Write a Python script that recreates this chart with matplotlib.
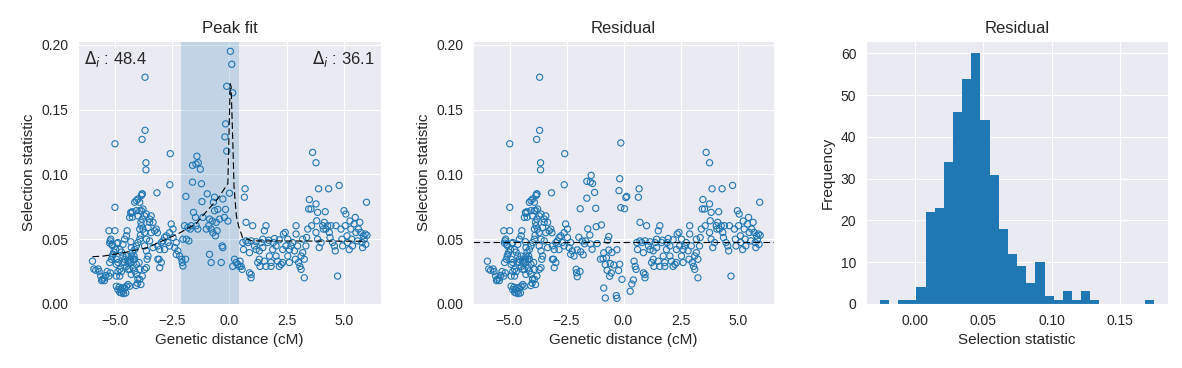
import numpy as np
import matplotlib
matplotlib.use("Agg")
import matplotlib.pyplot as plt
import seaborn as sns

sns.set_style("darkgrid")
plt.rcParams["font.family"] = ["Liberation Sans", "DejaVu Sans"]

# genetic distance (cM) and selection statistic
gen_x = [
    -5.97, -5.91, -5.83, -5.72, -5.68, -5.61, -5.54, -5.46, -5.39, -5.33, -5.57, -5.45, -5.25, -5.19,
    -5.25, -5.17, -5.22, -5.10, -5.04, -4.99, -4.99, -4.99, -5.10, -4.93, -4.86,
    -5.20, -5.12, -4.90, -4.29, -4.23,
    -4.93, -4.86, -4.78, -4.71, -4.64, -4.57, -4.49, -4.42, -4.35, -4.67, -4.81, -4.75, -4.61, -4.52,
    -4.78, -4.71, -4.64, -4.57, -4.49, -4.42, -4.35, -4.28, -4.28, -4.20, -4.20, -4.13, -4.06, -3.99,
    -3.91, -3.94, -4.06, -4.13, -4.16, -4.23, -4.28, -4.30, -4.13, -4.06, -3.99, -3.91, -3.88, -3.91,
    -3.84, -3.86, -3.77, -3.80, -3.70, -3.62, -3.70, -3.62, -3.55, -3.59, -3.62, -3.70, -3.80, -3.91,
    -4.01, -4.07, -3.86,
    -4.64, -4.57, -4.49, -4.46, -4.35, -4.30, -4.23, -4.13, -4.06, -3.99, -3.91, -3.84, -3.80, -4.06,
    -3.99, -3.91, -3.84, -3.77, -3.70, -3.62, -3.48, -3.41, -3.33, -3.48, -3.55, -3.26, -3.19, -3.14,
    -3.41, -3.48, -3.33, -3.12, -3.04, -3.07, -3.04, -3.16,
    -3.68, -3.68, -3.81, -3.64, -3.64, -3.81, -2.58, -2.60,
    -5.22, -5.14, -5.07, -4.96, -4.86, -4.78, -4.71, -4.64, -4.57, -4.49, -4.42, -4.38, -4.32, -4.28,
    -4.86, -4.78, -4.93, -4.93,
    -2.54, -2.46, -2.61, -2.75, -2.83, -2.90, -2.97, -2.68, -2.46, -2.32, -2.39, -2.25, -2.32, -2.17,
    -2.61, -2.83, -3.12, -2.97,
    -2.08, -2.06, -2.03, -1.91, -1.90, -1.61, -1.22, -1.42, -1.36, -1.61, -1.27, -1.46, -1.20, -1.16,
    -1.01, -1.57, -1.48, -1.45, -1.38, -1.81, -1.96, -2.03, -1.88, -1.77, -1.71, -1.67,
    -0.87, -0.90, -0.80, -0.75, -0.58, -0.65, -0.54, -0.72, -0.61, -0.51, -0.43, -0.29, -0.17, -0.22,
    -0.07, 0.00, -0.65, -0.97, -0.70,
    -0.87, -0.80, -0.36, -0.29, -0.32,
    -0.12, 0.04, 0.10, 0.14, -0.17, -0.20, -0.12,
    0.14, 0.22, 0.29, 0.36, 0.43, 0.46, 0.51, 0.55, 0.58, 0.61, 0.68, 0.65, 0.72, 0.80, 0.87, 0.94,
    0.94, 0.87, 1.01, 1.09, 1.16, 1.23, 1.30, 1.33, 1.38, 1.45, 1.52, 1.59, 1.59, 1.67, 1.74, 1.81,
    1.81, 1.88, 1.91, 2.03, 2.10, 2.17, 2.25, 2.32, 2.35, 2.43, 2.46, 2.54, 2.61, 2.68, 2.75, 2.83,
    2.87, 2.90, 2.97, 3.01, 3.07, 3.12, 3.19, 3.26, 3.26, 3.33, 3.36, 3.45, 3.48, 3.55, 3.58, 3.62,
    3.77, 3.77, 3.80, 3.84, 3.88, 3.77, 3.84, 3.91, 3.99, 4.06, 4.09, 4.13, 4.17, 4.20, 4.28, 4.32,
    4.35, 4.38, 4.42, 4.49, 4.57, 4.61, 4.64, 4.71, 4.78, 4.86, 4.90, 4.93, 4.99, 5.04, 5.07, 5.12,
    5.14, 5.22, 5.25, 5.29, 5.33, 5.36, 5.43, 5.48, 5.51, 5.58, 5.62, 5.68, 5.72, 5.77, 5.80, 5.83,
    5.87, 5.91, 5.94, 5.97, 5.99,
    0.72, 0.94, 1.16, 1.45, 1.71, 1.96, 2.17, 2.54, 2.90, 3.19, 3.41, 1.52, 2.32, 2.61, 1.30, 2.03,
    3.12,
]
sel_y = [
    0.0330, 0.0270, 0.0260, 0.0270, 0.0250, 0.0215, 0.0190, 0.0200, 0.0220, 0.0250, 0.0180, 0.0180, 0.0215, 0.0240,
    0.0565, 0.0500, 0.0470, 0.0450, 0.0400, 0.0565, 0.0746, 0.1236, 0.0370, 0.0345, 0.0320,
    0.0487, 0.0460, 0.0467, 0.0700, 0.0670,
    0.0137, 0.0110, 0.0090, 0.0085, 0.0098, 0.0124, 0.0137, 0.0150, 0.0137, 0.0124, 0.0130, 0.0110, 0.0080, 0.0085,
    0.0215, 0.0250, 0.0320, 0.0345, 0.0370, 0.0330, 0.0267, 0.0228, 0.0320, 0.0345, 0.0280, 0.0254, 0.0228, 0.0194,
    0.0267, 0.0320, 0.0306, 0.0345, 0.0370, 0.0400, 0.0435, 0.0480, 0.0420, 0.0448, 0.0474, 0.0500, 0.0530, 0.0578,
    0.0604, 0.0630, 0.0578, 0.0655, 0.0550, 0.0500, 0.0448, 0.0410, 0.0370, 0.0345, 0.0280, 0.0267, 0.0215, 0.0190,
    0.0160, 0.0142, 0.0150,
    0.0460, 0.0500, 0.0526, 0.0565, 0.0668, 0.0707, 0.0712, 0.0785, 0.0798, 0.0810, 0.0785, 0.0837, 0.0850, 0.0720,
    0.0680, 0.0720, 0.0720, 0.0733, 0.0680, 0.0694, 0.0655, 0.0680, 0.0630, 0.0630, 0.0590, 0.0565, 0.0578, 0.0550,
    0.0550, 0.0487, 0.0435, 0.0448, 0.0420, 0.0345, 0.0280, 0.0858,
    0.1750, 0.1340, 0.1270, 0.1090, 0.1035, 0.0848, 0.1160, 0.0920,
    0.0320, 0.0345, 0.0383, 0.0420, 0.0474, 0.0420, 0.0400, 0.0370, 0.0320, 0.0290, 0.0267, 0.0320, 0.0345, 0.0370,
    0.0250, 0.0267, 0.0215, 0.0306,
    0.0617, 0.0578, 0.0550, 0.0526, 0.0513, 0.0487, 0.0474, 0.0474, 0.0513, 0.0474, 0.0435, 0.0410, 0.0383, 0.0370,
    0.0448, 0.0420, 0.0345, 0.0320,
    0.0345, 0.0320, 0.0293, 0.0345, 0.0830, 0.0940, 0.0928, 0.1140, 0.1090, 0.1070, 0.1040, 0.1080, 0.0790, 0.0668,
    0.0578, 0.0707, 0.0668, 0.0604, 0.0578, 0.0590, 0.0604, 0.0500, 0.0500, 0.0487, 0.0578, 0.0604,
    0.0655, 0.0604, 0.0578, 0.0640, 0.0630, 0.0720, 0.0565, 0.0550, 0.0526, 0.0730, 0.0655, 0.0810, 0.0730, 0.0668,
    0.0640, 0.0855, 0.0824, 0.0850, 0.0785,
    0.0383, 0.0320, 0.0320, 0.0435, 0.0448,
    0.1680, 0.1950, 0.1850, 0.1630, 0.1390, 0.1290, 0.1180,
    0.0290, 0.0345, 0.0320, 0.0306, 0.0290, 0.0330, 0.0290, 0.0267, 0.0474, 0.0420, 0.0889, 0.0824, 0.0630, 0.0474, 0.0240, 0.0202,
    0.0228, 0.0396, 0.0604, 0.0448, 0.0420, 0.0320, 0.0345, 0.0290, 0.0474, 0.0435, 0.0330, 0.0604, 0.0290, 0.0474, 0.0370, 0.0320,
    0.0290, 0.0420, 0.0474, 0.0448, 0.0330, 0.0290, 0.0306, 0.0420, 0.0540, 0.0552, 0.0448, 0.0370, 0.0420, 0.0448, 0.0474, 0.0410,
    0.0345, 0.0604, 0.0448, 0.0320, 0.0290, 0.0370, 0.0396, 0.0202, 0.0345, 0.0448, 0.0513, 0.0733, 0.0806, 0.0733, 0.0604, 0.1170,
    0.1090, 0.0772, 0.0642, 0.0707, 0.0889, 0.0552, 0.0500, 0.0435, 0.0474, 0.0604, 0.0578, 0.0630, 0.0712, 0.0578, 0.0604, 0.0889,
    0.0552, 0.0513, 0.0604, 0.0474, 0.0448, 0.0410, 0.0604, 0.0215, 0.0915, 0.0578, 0.0500, 0.0448, 0.0720, 0.0604, 0.0694, 0.0526,
    0.0474, 0.0420, 0.0640, 0.0578, 0.0500, 0.0448, 0.0617, 0.0668, 0.0552, 0.0487, 0.0578, 0.0630, 0.0552, 0.0474, 0.0435, 0.0526,
    0.0500, 0.0540, 0.0460, 0.0785, 0.0530,
    0.0487, 0.0487, 0.0480, 0.0500, 0.0492, 0.0505, 0.0495, 0.0500, 0.0540, 0.0500, 0.0578, 0.0565, 0.0320, 0.0320, 0.0410, 0.0370,
    0.0267,
]

# fitted peak curve (dashed line)
fit_x = [-5.97, -5.48, -4.58, -3.57, -2.26, -1.47, -1.17, -0.52, -0.07, 0.03, 0.07, 0.14, 0.20, 0.30, 0.40, 0.57, 1.00, 5.97]
fit_y = [0.0365, 0.037, 0.0397, 0.0435, 0.054, 0.0617, 0.068, 0.081, 0.093, 0.170, 0.168, 0.128, 0.090, 0.068, 0.060, 0.0513, 0.0487, 0.0484]

window = (-2.1, 0.43)
baseline = 0.048
delta_left = 48.4
delta_right = 36.1

# histogram of residual selection statistic
hist_edges = np.linspace(-0.0256, 0.1749, 31)
hist_counts = [1, 0, 1, 1, 4, 22, 23, 34, 46, 54, 60, 44, 31, 18, 12, 9, 5, 10, 2, 1,
               3, 1, 3, 1, 0, 0, 0, 0, 0, 1]

gen_x = np.array(gen_x)
sel_y = np.array(sel_y)
in_win = (gen_x >= window[0]) & (gen_x <= window[1])
resid = np.where(in_win, sel_y - np.interp(gen_x, fit_x, fit_y) + baseline, sel_y)

fig = plt.figure(figsize=(11.82, 3.68), dpi=100)
ax1 = fig.add_axes([0.066, 0.174, 0.2563, 0.7147])
ax2 = fig.add_axes([0.4002, 0.174, 0.2547, 0.7147])
ax3 = fig.add_axes([0.7327, 0.174, 0.2555, 0.7147])

mk = dict(facecolors="none", edgecolors="#1f77b4", s=20, linewidths=0.8)

ax1.axvspan(*window, color="#1f77b4", alpha=0.2, lw=0)
ax1.scatter(gen_x, sel_y, **mk)
ax1.plot(fit_x, fit_y, color="black", ls=(0, (6, 3)), lw=0.8)
ax1.text(0.02, 0.97, r"$\Delta_i$ : %.1f" % delta_left, transform=ax1.transAxes,
         ha="left", va="top", fontsize=12, color="#262626")
ax1.text(0.98, 0.97, r"$\Delta_i$ : %.1f" % delta_right, transform=ax1.transAxes,
         ha="right", va="top", fontsize=12, color="#262626")
ax1.set_title("Peak fit", fontsize=12)

ax2.scatter(gen_x, resid, **mk)
ax2.axhline(baseline, color="black", ls=(0, (6, 3)), lw=0.8)
ax2.set_title("Residual", fontsize=12)

for ax in (ax1, ax2):
    ax.set_xlim(-6.6, 6.6)
    ax.set_ylim(0, 0.203)
    ax.set_xticks([-5, -2.5, 0, 2.5, 5])
    ax.set_yticks([0, 0.05, 0.10, 0.15, 0.20])
    ax.set_xlabel("Genetic distance (cM)", fontsize=11)
    ax.set_ylabel("Selection statistic", fontsize=11)

centers = (hist_edges[:-1] + hist_edges[1:]) / 2
ax3.hist(centers, bins=hist_edges, weights=hist_counts, color="#1f77b4",
         edgecolor="none", linewidth=0)
ax3.set_title("Residual", fontsize=12)
ax3.set_xlabel("Selection statistic", fontsize=11)
ax3.set_ylabel("Frequency", fontsize=11)
ax3.set_xticks([0, 0.05, 0.10, 0.15])

for ax in (ax1, ax2, ax3):
    ax.tick_params(labelsize=10)

fig.savefig("out.png", dpi=100)
